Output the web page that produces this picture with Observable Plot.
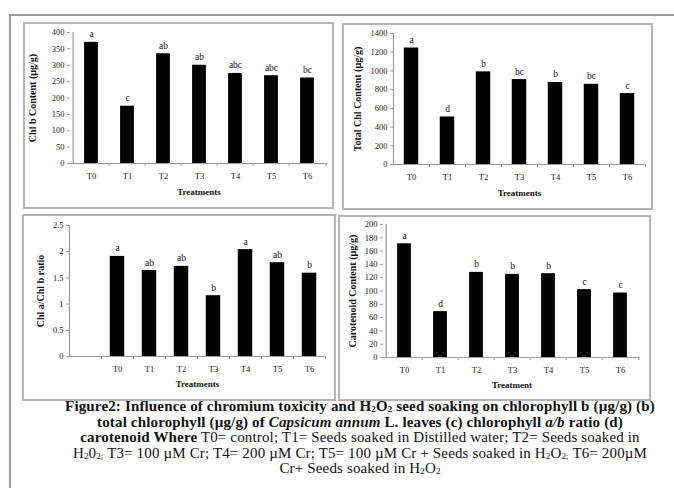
<!DOCTYPE html>
<html>
<head>
<meta charset="utf-8">
<script src="https://cdn.jsdelivr.net/npm/d3@7"></script>
<script src="https://cdn.jsdelivr.net/npm/@observablehq/plot@0.6"></script>
<style>
  html, body { margin: 0; padding: 0; background: #fff; }
  #page { position: relative; width: 674px; height: 488px; overflow: hidden; background: #fff; }
  .line { position: absolute; background: #9a9a9a; }
  .panel { position: absolute; border: 2px solid #b4b4b4; box-sizing: border-box; background: #fff; }
  .panel svg { display: block; }
  .panel svg [aria-label$="tick"] { stroke: #9a9a9a; }
  #caption { position: absolute; left: 20px; top: 399px; width: 680px; text-align: center;
    font-family: "Liberation Serif", "Times New Roman", serif; font-size: 15px; line-height: 15.6px;
    letter-spacing: 0.15px; color: #111; }
  #caption sub { font-size: 0.6em; vertical-align: -0.1em; line-height: 0; }
</style>
</head>
<body>
<div id="page">
  <div class="line" style="left:9px; top:14px; width:665px; height:2px;"></div>
  <div class="line" style="left:9px; top:14px; width:2px; height:474px;"></div>
  <div id="caption">
    <b>Figure2: Influence of chromium toxicity and H<sub>2</sub>O<sub>2</sub> seed soaking on chlorophyll b (µg/g) (b)</b><br>
    <b>total chlorophyll (µg/g) of <i>Capsicum annum</i> L. leaves (c) chlorophyll <i>a/b</i> ratio (d)</b><br>
    <b>carotenoid Where</b> T0= control; T1= Seeds soaked in Distilled water; T2= Seeds soaked in<br>
    H<sub>2</sub>0<sub>2;</sub> T3= 100 µM Cr; T4= 200 µM Cr; T5= 100 µM Cr + Seeds soaked in H<sub>2</sub>O<sub>2;</sub> T6= 200µM<br>
    Cr+ Seeds soaked in H<sub>2</sub>O<sub>2</sub>
  </div>
</div>
<script>
// ---- data ----
const treatments = ["T0", "T1", "T2", "T3", "T4", "T5", "T6"];

const chlB = [370, 175, 335, 300, 275, 268, 261];
const chlBLetters = ["a", "c", "ab", "ab", "abc", "abc", "bc"];
const chlBTicks = [0, 50, 100, 150, 200, 250, 300, 350, 400];

const totalChl = [1245, 508, 990, 908, 877, 857, 758];
const totalChlLetters = ["a", "d", "b", "bc", "b", "bc", "c"];
const totalChlTicks = [0, 200, 400, 600, 800, 1000, 1200, 1400];

const ratioAB = [1.91, 1.64, 1.72, 1.16, 2.04, 1.79, 1.59];
const ratioABLetters = ["a", "ab", "ab", "b", "a", "ab", "b"];
const ratioABTicks = [0, 0.5, 1, 1.5, 2, 2.5];

const carotenoid = [171, 69, 128, 125, 126, 102, 97];
const carotenoidLetters = ["a", "d", "b", "b", "b", "c", "c"];
const carotenoidTicks = [0, 20, 40, 60, 80, 100, 120, 140, 160, 180, 200];

// ---- panels ----
const panels = [
  {values: chlB, letters: chlBLetters, ticks: chlBTicks, yTitle: "Chl b Content (µg/g)", xTitle: "Treatments",
   domain: treatments, box: [23, 22, 311, 187], m: [8, 5, 44, 45], yTitleDx: -38, xTitleDy: 31},
  {values: totalChl, letters: totalChlLetters, ticks: totalChlTicks, yTitle: "Total Chl Content (µg/g)", xTitle: "Treatments",
   domain: treatments, box: [342, 23, 311, 187], m: [8, 6, 44, 49], yTitleDx: -36, xTitleDy: 31},
  {values: ratioAB, letters: ratioABLetters, ticks: ratioABTicks, yTitle: "Chl a/Chl b ratio", xTitle: "Treatments",
   domain: [" ", ...treatments], box: [22, 214, 314, 187], m: [9, 9, 43, 45], yTitleDx: -29, xTitleDy: 30},
  {values: carotenoid, letters: carotenoidLetters, ticks: carotenoidTicks, yTitle: "Carotenoid Content (µg/g)", xTitle: "Treatment",
   domain: treatments, box: [338, 215, 313, 186], m: [7, 9, 42, 43], yTitleDx: -31, xTitleDy: 30}
];

const page = document.getElementById("page");
const font = "'Liberation Serif', 'Times New Roman', serif";

for (const p of panels) {
  const [left, top, w, h] = p.box;
  const [mt, mr, mb, ml] = p.m;
  const width = w - 4, height = h - 4;
  const data = treatments.map((t, i) => ({t, v: p.values[i], l: p.letters[i]}));
  const yMax = p.ticks[p.ticks.length - 1];
  const step = (width - ml - mr) / p.domain.length;
  const barW = 14.5;
  const inset = (step - barW) / 2;
  const tickLen = 3 * yMax / (height - mt - mb);

  const div = document.createElement("div");
  div.className = "panel";
  div.style.left = left + "px";
  div.style.top = top + "px";
  div.style.width = w + "px";
  div.style.height = h + "px";

  const chart = Plot.plot({
    width, height,
    marginTop: mt, marginRight: mr, marginBottom: mb, marginLeft: ml,
    style: {fontFamily: font, fontSize: "8.5px", background: "#fff", color: "#222"},
    x: {domain: p.domain, padding: 0, tickSize: 0, tickPadding: 9, label: null},
    y: {domain: [0, yMax], ticks: p.ticks, tickSize: 3, tickPadding: 3, label: null, tickFormat: d => String(d)},
    marks: [
      Plot.barY(data, {x: "t", y: "v", fill: "#000", insetLeft: inset, insetRight: inset}),
      Plot.ruleY([0], {stroke: "#9a9a9a", strokeWidth: 1.2}),
      Plot.ruleX([p.domain[0]], {x: d => d, dx: -step / 2, y1: 0, y2: yMax, stroke: "#9a9a9a", strokeWidth: 1.2}),
      Plot.ruleX(p.domain.slice(1), {x: d => d, dx: -step / 2, y1: 0, y2: -tickLen, stroke: "#9a9a9a"}),
      Plot.ruleX([p.domain[p.domain.length - 1]], {x: d => d, dx: step / 2, y1: 0, y2: -tickLen, stroke: "#9a9a9a"}),
      Plot.text(data, {x: "t", y: "v", text: "l", dy: -8, fontSize: 9.5, fill: "#111"}),
      Plot.text([p.xTitle], {frameAnchor: "bottom", dy: p.xTitleDy, fontWeight: "bold", fontSize: 9, fill: "#111"}),
      Plot.text([p.yTitle], {frameAnchor: "left", textAnchor: "middle", dx: p.yTitleDx, rotate: -90, fontWeight: "bold", fontSize: 10, fill: "#111"})
    ]
  });
  div.appendChild(chart);
  page.appendChild(div);
}
</script>
</body>
</html>
